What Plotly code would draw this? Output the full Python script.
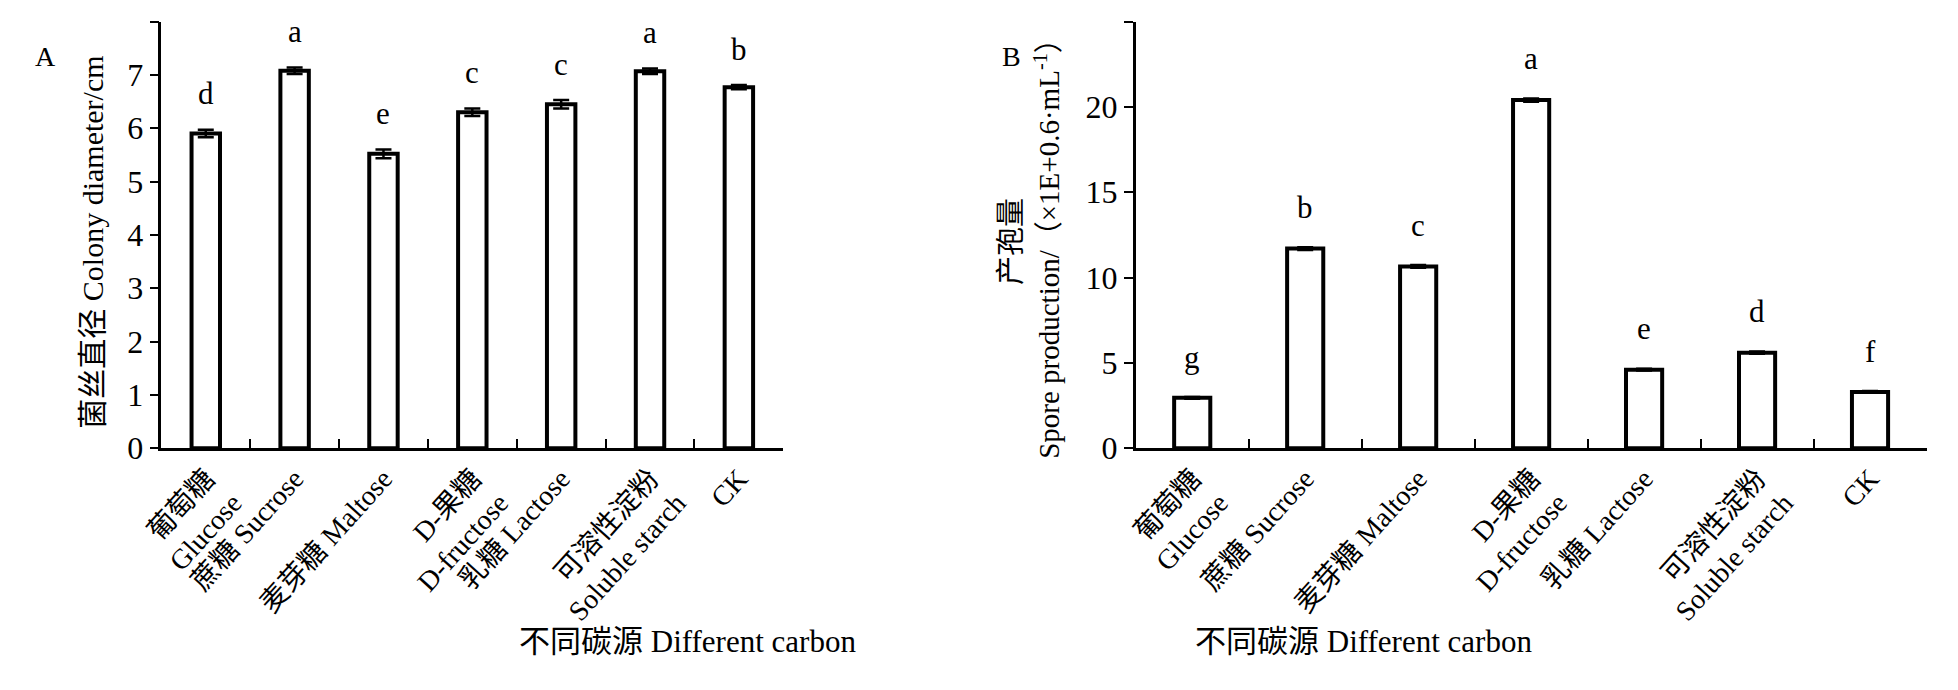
import plotly.graph_objects as go

cats = ["葡萄糖<br>Glucose", "蔗糖 Sucrose", "麦芽糖 Maltose", "D-果糖<br>D-fructose",
        "乳糖 Lactose", "可溶性淀粉<br>Soluble starch", "CK"]
dia = [5.90, 7.08, 5.52, 6.30, 6.45, 7.07, 6.77]
dia_err = [0.07, 0.06, 0.08, 0.07, 0.08, 0.05, 0.04]
dia_sig = ["d", "a", "e", "c", "c", "a", "b"]
spore = [2.95, 11.70, 10.65, 20.40, 4.60, 5.60, 3.30]
spore_err = [0.05, 0.08, 0.08, 0.10, 0.05, 0.07, 0.05]
spore_sig = ["g", "b", "c", "a", "e", "d", "f"]

FONT = "Liberation Serif, Noto Sans CJK SC, serif"
fig = go.Figure()
for vals, err, xa, ya in [(dia, dia_err, "x", "y"), (spore, spore_err, "x2", "y2")]:
    fig.add_trace(go.Bar(x=cats, y=vals, xaxis=xa, yaxis=ya, width=0.32,
                         marker=dict(color="white", line=dict(color="black", width=4)),
                         error_y=dict(type="data", array=err, color="black", thickness=2.5, width=8),
                         showlegend=False))

ann = []
for c, v, e, s in zip(cats, dia, dia_err, dia_sig):
    ann.append(dict(x=c, y=v + e, xref="x", yref="y", text=s, showarrow=False, yshift=36,
                    font=dict(size=31, family=FONT, color="black")))
for c, v, e, s in zip(cats, spore, spore_err, spore_sig):
    ann.append(dict(x=c, y=v + e, xref="x2", yref="y2", text=s, showarrow=False, yshift=40,
                    font=dict(size=31, family=FONT, color="black")))
ann += [
    dict(x=0.0, y=1-32/690, xref="paper", yref="paper", text="A", showarrow=False, xanchor="left",
         font=dict(size=28, family=FONT, color="black")),
    dict(x=980/1958, y=1-32/690, xref="paper", yref="paper", text="B", showarrow=False, xanchor="left",
         font=dict(size=28, family=FONT, color="black")),
    dict(x=42/1958, y=1-240/690, xref="paper", yref="paper", text="菌丝直径 Colony diameter/cm",
         textangle=-90, showarrow=False, font=dict(size=30, family=FONT, color="black")),
    dict(x=1010/1958, y=1-240/690, xref="paper", yref="paper",
         text="产孢量<br>Spore production/（×1E+0.6·mL<sup>-1</sup>）",
         textangle=-90, showarrow=False, font=dict(size=29, family=FONT, color="black")),
    dict(x=490/1958, y=1-670/690, xref="paper", yref="paper", text="不同碳源 Different carbon",
         showarrow=False, font=dict(size=31, family=FONT, color="black")),
    dict(x=1520/1958, y=1-670/690, xref="paper", yref="paper", text="不同碳源 Different carbon",
         showarrow=False, font=dict(size=31, family=FONT, color="black")),
]

xcommon = dict(showline=True, linecolor="black", linewidth=2.5, ticks="inside", tickson="boundaries",
               ticklen=9, tickcolor="black", tickwidth=2, tickangle=-48,
               tickfont=dict(size=28, family=FONT, color="black"), showgrid=False)
ycommon = dict(showline=True, linecolor="black", linewidth=2.5, ticks="outside", ticklen=9,
               tickcolor="black", tickwidth=2, tickfont=dict(size=32, family=FONT, color="black"),
               showgrid=False, zeroline=False)

fig.update_layout(
    width=1958, height=690, margin=dict(l=0, r=0, t=0, b=0),
    plot_bgcolor="white", paper_bgcolor="white",
    xaxis=dict(domain=[130/1958, 760/1958], anchor="y", **xcommon),
    xaxis2=dict(domain=[1117/1958, 1918/1958], anchor="y2", **xcommon),
    yaxis=dict(domain=[1-452/690, 1-14/690], range=[0, 8], dtick=1, anchor="x", **ycommon),
    yaxis2=dict(domain=[1-452/690, 1-14/690], range=[0, 25], dtick=5, anchor="x2", **ycommon),
    annotations=ann,
)
fig.write_html("out.html")
